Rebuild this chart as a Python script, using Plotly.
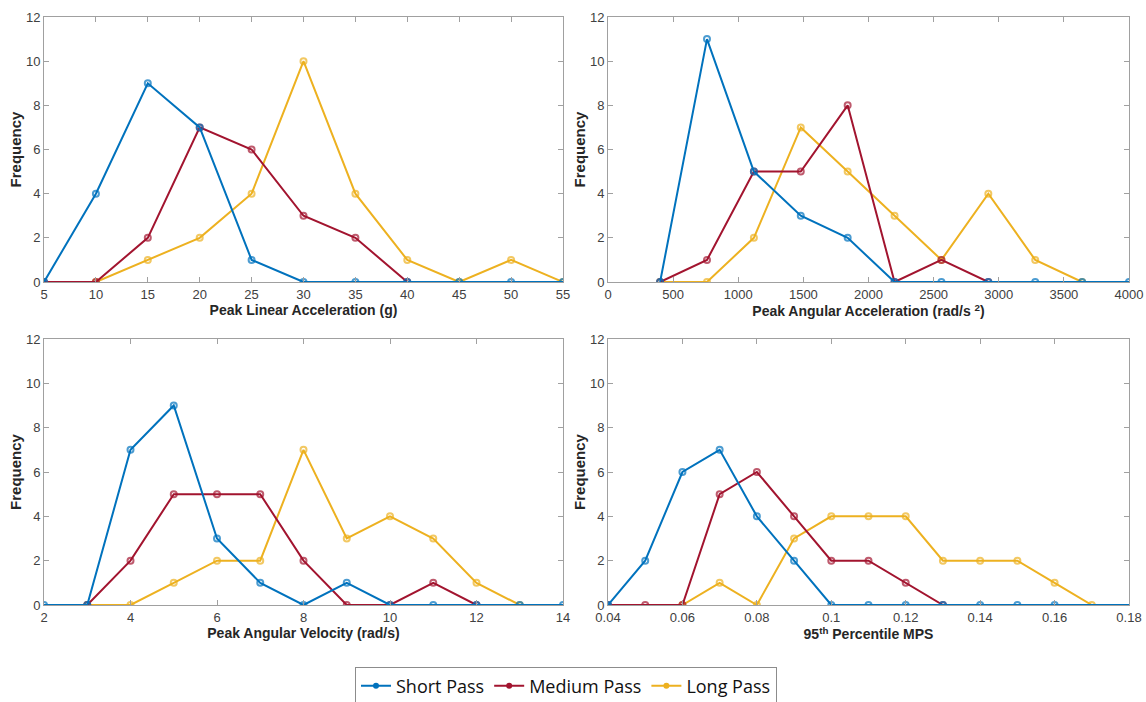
import plotly.graph_objects as go

# ---- data ----
series_names = ["Short Pass", "Medium Pass", "Long Pass"]
colors = ["#0072BD", "#A2142F", "#EDB120"]

# Panel 1: Peak Linear Acceleration (g)
p1_short_x = [5, 10, 15, 20, 25, 30, 35, 40, 45, 50, 55]
p1_short_y = [0, 4, 9, 7, 1, 0, 0, 0, 0, 0, 0]
p1_med_x = [5, 10, 15, 20, 25, 30, 35, 40]
p1_med_y = [0, 0, 2, 7, 6, 3, 2, 0]
p1_long_x = [10, 15, 20, 25, 30, 35, 40, 45, 50, 55]
p1_long_y = [0, 1, 2, 4, 10, 4, 1, 0, 1, 0]

# Panel 2: Peak Angular Acceleration (rad/s^2)
p2_short_x = [400, 760, 1120, 1480, 1840, 2200, 2560, 2920, 3280, 3640, 4000]
p2_short_y = [0, 11, 5, 3, 2, 0, 0, 0, 0, 0, 0]
p2_med_x = [400, 760, 1120, 1480, 1840, 2200, 2560, 2920]
p2_med_y = [0, 1, 5, 5, 8, 0, 1, 0]
p2_long_x = [400, 760, 1120, 1480, 1840, 2200, 2560, 2920, 3280, 3640]
p2_long_y = [0, 0, 2, 7, 5, 3, 1, 4, 1, 0]

# Panel 3: Peak Angular Velocity (rad/s)
p3_short_x = [2, 3, 4, 5, 6, 7, 8, 9, 10, 11, 12, 13, 14]
p3_short_y = [0, 0, 7, 9, 3, 1, 0, 1, 0, 0, 0, 0, 0]
p3_med_x = [3, 4, 5, 6, 7, 8, 9, 10, 11, 12]
p3_med_y = [0, 2, 5, 5, 5, 2, 0, 0, 1, 0]
p3_long_x = [3, 4, 5, 6, 7, 8, 9, 10, 11, 12, 13]
p3_long_y = [0, 0, 1, 2, 2, 7, 3, 4, 3, 1, 0]

# Panel 4: 95th Percentile MPS
p4_short_x = [0.04, 0.05, 0.06, 0.07, 0.08, 0.09, 0.10, 0.11, 0.12, 0.13, 0.14, 0.15, 0.16, 0.17, 0.18]
p4_short_y = [0, 2, 6, 7, 4, 2, 0, 0, 0, 0, 0, 0, 0, 0, 0]
p4_med_x = [0.04, 0.05, 0.06, 0.07, 0.08, 0.09, 0.10, 0.11, 0.12, 0.13]
p4_med_y = [0, 0, 0, 5, 6, 4, 2, 2, 1, 0]
p4_long_x = [0.06, 0.07, 0.08, 0.09, 0.10, 0.11, 0.12, 0.13, 0.14, 0.15, 0.16, 0.17]
p4_long_y = [0, 1, 0, 3, 4, 4, 4, 2, 2, 2, 1, 0]

x_titles = [
    "Peak Linear Acceleration (g)",
    "Peak Angular Acceleration (rad/s <sup>2</sup>)",
    "Peak Angular Velocity (rad/s)",
    "95<sup>th</sup> Percentile MPS",
]
y_title = "Frequency"

p1_ticks = [5, 10, 15, 20, 25, 30, 35, 40, 45, 50, 55]
p2_ticks = [0, 500, 1000, 1500, 2000, 2500, 3000, 3500, 4000]
p3_ticks = [2, 4, 6, 8, 10, 12, 14]
p4_ticks = [0.04, 0.06, 0.08, 0.10, 0.12, 0.14, 0.16, 0.18]
p4_ticktext = ["0.04", "0.06", "0.08", "0.1", "0.12", "0.14", "0.16", "0.18"]
y_ticks = [0, 2, 4, 6, 8, 10, 12]

panels = [
    dict(data=[(p1_short_x, p1_short_y), (p1_med_x, p1_med_y), (p1_long_x, p1_long_y)],
         rng=[5, 55], ticks=p1_ticks, ticktext=[str(t) for t in p1_ticks]),
    dict(data=[(p2_short_x, p2_short_y), (p2_med_x, p2_med_y), (p2_long_x, p2_long_y)],
         rng=[0, 4000], ticks=p2_ticks, ticktext=[str(t) for t in p2_ticks]),
    dict(data=[(p3_short_x, p3_short_y), (p3_med_x, p3_med_y), (p3_long_x, p3_long_y)],
         rng=[2, 14], ticks=p3_ticks, ticktext=[str(t) for t in p3_ticks]),
    dict(data=[(p4_short_x, p4_short_y), (p4_med_x, p4_med_y), (p4_long_x, p4_long_y)],
         rng=[0.04, 0.18], ticks=p4_ticks, ticktext=p4_ticktext),
]

W, H = 1146, 702
x_doms = [[44 / W, 563 / W], [608 / W, 1129 / W]]
y_doms = [[1 - 282 / H, 1 - 17 / H], [1 - 605 / H, 1 - 339 / H]]

fig = go.Figure()
draw_order = [2, 1, 0]  # long, medium, short (short on top)

for pi, p in enumerate(panels):
    ax = "" if pi == 0 else str(pi + 1)
    for si in draw_order:
        xs, ys = p["data"][si]
        sizes = [6] * len(xs)
        if pi == 3 and si == 0:
            sizes = [6 if x <= 0.16 else 0 for x in xs]
        fig.add_trace(go.Scatter(
            x=xs, y=ys, mode="lines+markers",
            name=series_names[si],
            showlegend=False,
            line=dict(color=colors[si], width=2),
            marker=dict(symbol="circle-open", size=sizes, color=colors[si], line=dict(width=2)),
            xaxis="x" + ax, yaxis="y" + ax,
        ))

# legend entries
for si in range(3):
    fig.add_trace(go.Scatter(
        x=[None], y=[None], mode="lines+markers", name=series_names[si],
        line=dict(color=colors[si], width=2),
        marker=dict(symbol="circle", size=6, color=colors[si]),
        showlegend=True,
    ))

axis_common = dict(
    showline=True, mirror="ticks", linecolor="#a0a0a0", linewidth=1,
    ticks="inside", ticklen=5, tickcolor="#a0a0a0", showgrid=False, zeroline=False,
    tickfont=dict(family="Liberation Sans, Arial", size=13, color="#404040"),
)

layout = dict(
    width=W, height=H, autosize=False,
    margin=dict(l=0, r=0, t=0, b=0, autoexpand=False),
    paper_bgcolor="white", plot_bgcolor="white",
    showlegend=True,
    legend=dict(
        orientation="h",
        x=566 / W, xanchor="center", y=1 - 686 / H, yanchor="middle",
        bordercolor="#8c8c8c", borderwidth=1,
        font=dict(family="Open Sans", size=18, color="#111"),
        itemwidth=30, traceorder="normal",
    ),
)

for pi, p in enumerate(panels):
    ax = "" if pi == 0 else str(pi + 1)
    col = pi % 2
    row = pi // 2
    layout["xaxis" + ax] = dict(
        axis_common, domain=x_doms[col], range=p["rng"], anchor="y" + ax,
        tickmode="array", tickvals=p["ticks"], ticktext=p["ticktext"],
        title=dict(text=x_titles[pi], standoff=2,
                   font=dict(family="Liberation Sans, Arial", size=14, color="#262626", weight="bold")),
    )
    layout["yaxis" + ax] = dict(
        axis_common, domain=y_doms[row], range=[0, 12], anchor="x" + ax,
        tickmode="array", tickvals=y_ticks,
        title=dict(text=y_title, standoff=0,
                   font=dict(family="Liberation Sans, Arial", size=15, color="#262626", weight="bold")),
    )

fig.update_layout(**layout)
fig.write_html("out.html")
